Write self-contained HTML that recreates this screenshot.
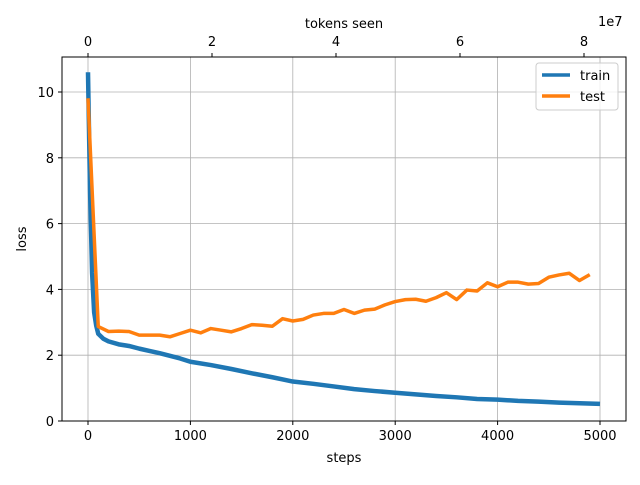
<!DOCTYPE html>
<html><head><meta charset="utf-8"><style>
body{margin:0;background:#fff}
svg text{font-family:"DejaVu Sans","Liberation Sans",sans-serif;font-size:13px;fill:#000}
</style></head><body>
<svg id="chart" width="640" height="480">
<g id="grid"></g>
<g id="series"></g>
<rect x="62" y="57" width="564" height="364" fill="none" stroke="#000" stroke-width="1"/>
<g id="axes"></g>
<text x="344" y="462" text-anchor="middle">steps</text>
<text x="344" y="28" text-anchor="middle">tokens seen</text>
<text x="598" y="26">1e7</text>
<text transform="translate(26,239) rotate(-90)" text-anchor="middle">loss</text>
<g>
<rect x="536" y="63" width="82" height="47" rx="3" fill="#fff" fill-opacity="0.8" stroke="#ccc"/>
<line x1="542" y1="75" x2="570" y2="75" stroke="#1f77b4" stroke-width="3.5"/>
<text x="580" y="80">train</text>
<line x1="542" y1="96" x2="570" y2="96" stroke="#ff7f0e" stroke-width="3.5"/>
<text x="580" y="101">test</text>
</g>
</svg>
<script>
const xTicks=[0,1000,2000,3000,4000,5000];
const yTicks=[0,2,4,6,8,10];
const topTicks=[0,2,4,6,8];
const testSteps=[0,100,200,300,400,500,600,700,800,900,1000,1100,1200,1300,1400,1500,1600,1700,1800,1900,2000,2100,2200,2300,2400,2500,2600,2700,2800,2900,3000,3100,3200,3300,3400,3500,3600,3700,3800,3900,4000,4100,4200,4300,4400,4500,4600,4700,4800,4900];
const testLoss=[9.81,2.87,2.72,2.73,2.72,2.61,2.61,2.61,2.56,2.66,2.76,2.68,2.81,2.76,2.71,2.81,2.93,2.91,2.88,3.11,3.04,3.09,3.22,3.27,3.27,3.39,3.27,3.37,3.40,3.53,3.63,3.69,3.70,3.64,3.75,3.90,3.69,3.98,3.95,4.20,4.08,4.22,4.22,4.16,4.18,4.37,4.44,4.49,4.27,4.45];
const trainSteps=[0,20,40,60,80,100,150,200,300,400,500,600,700,800,900,1000,1200,1400,1600,1800,2000,2200,2400,2600,2800,3000,3200,3400,3600,3800,4000,4200,4400,4600,4800,5000];
const trainLoss=[10.6,7,4.5,3.3,2.9,2.65,2.5,2.42,2.33,2.28,2.2,2.13,2.06,1.98,1.9,1.8,1.7,1.58,1.45,1.33,1.2,1.13,1.05,0.97,0.91,0.86,0.81,0.76,0.72,0.67,0.65,0.61,0.59,0.56,0.54,0.52];
const NS='http://www.w3.org/2000/svg';
const xs=v=>88+v*0.1024, ys=v=>421-v*32.9, xt=v=>88+v*62;
function mk(t,a,p){const e=document.createElementNS(NS,t);for(const k in a)e.setAttribute(k,a[k]);p.appendChild(e);return e;}
const grid=document.getElementById('grid'),axes=document.getElementById('axes'),ser=document.getElementById('series');
xTicks.forEach(v=>{const x=xs(v);
 const g=mk('line',{x1:x,x2:x,y1:57,y2:421,stroke:'#b0b0b0','stroke-width':0.8},grid);
 
 
 mk('line',{x1:x,x2:x,y1:421,y2:425,stroke:'#000'},axes);
 const t=mk('text',{x:x,y:440,'text-anchor':'middle'},axes);t.textContent=v;
 
 });
yTicks.forEach(v=>{const y=ys(v);
 const g=mk('line',{x1:62,x2:626,y1:y,y2:y,stroke:'#b0b0b0','stroke-width':0.8},grid);
 
 
 mk('line',{x1:58,x2:62,y1:y,y2:y,stroke:'#000'},axes);
 const t=mk('text',{x:54,y:y+5,'text-anchor':'end'},axes);t.textContent=v;
 
 });
topTicks.forEach(v=>{const x=xt(v);
 mk('line',{x1:x,x2:x,y1:53,y2:57,stroke:'#000'},axes);
 const t=mk('text',{x:x,y:46,'text-anchor':'middle'},axes);t.textContent=v;
 
 });
const tr=mk('polyline',{points:trainSteps.map((s,i)=>xs(s)+','+ys(trainLoss[i])).join(' '),fill:'none',stroke:'#1f77b4','stroke-width':4.5,'stroke-linejoin':'round'},ser);


const te=mk('polyline',{points:testSteps.map((s,i)=>xs(s)+','+ys(testLoss[i])).join(' '),fill:'none',stroke:'#ff7f0e','stroke-width':3.5,'stroke-linejoin':'round'},ser);


</script>
</body></html>
